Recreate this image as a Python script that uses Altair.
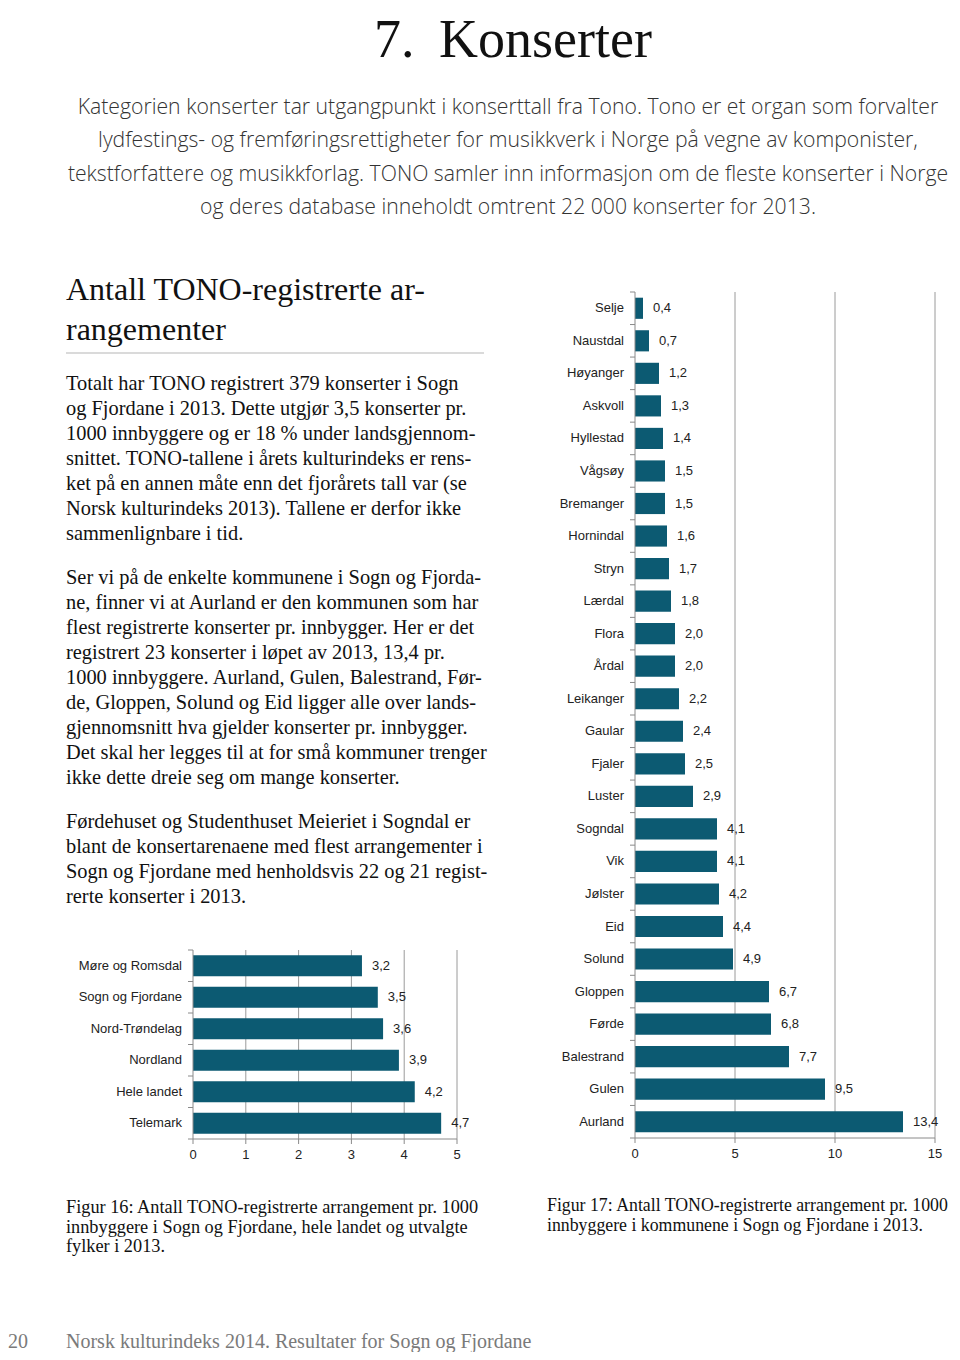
import altair as alt
import pandas as pd

# ---------------- data ----------------
FYLKE = ["Møre og Romsdal", "Sogn og Fjordane", "Nord-Trøndelag", "Nordland", "Hele landet", "Telemark"]
FYLKE_VAL = [3.2, 3.5, 3.6, 3.9, 4.2, 4.7]
SMALL_TICKS = [0, 1, 2, 3, 4, 5]

KOMMUNE = ["Selje", "Naustdal", "Høyanger", "Askvoll", "Hyllestad", "Vågsøy", "Bremanger",
           "Hornindal", "Stryn", "Lærdal", "Flora", "Årdal", "Leikanger", "Gaular", "Fjaler",
           "Luster", "Sogndal", "Vik", "Jølster", "Eid", "Solund", "Gloppen", "Førde",
           "Balestrand", "Gulen", "Aurland"]
KOMMUNE_VAL = [0.4, 0.7, 1.2, 1.3, 1.4, 1.5, 1.5, 1.6, 1.7, 1.8, 2.0, 2.0, 2.2, 2.4, 2.5,
               2.9, 4.1, 4.1, 4.2, 4.4, 4.9, 6.7, 6.8, 7.7, 9.5, 13.4]
BIG_TICKS = [0, 5, 10, 15]

TITLE_NUM = "7."
TITLE_TEXT = "Konserter"
INTRO = [
    "Kategorien konserter tar utgangpunkt i konserttall fra Tono. Tono er et organ som forvalter",
    "lydfestings- og fremføringsrettigheter for musikkverk i Norge på vegne av komponister,",
    "tekstforfattere og musikkforlag. TONO samler inn informasjon om de fleste konserter i Norge",
    "og deres database inneholdt omtrent 22 000 konserter for 2013.",
]
HEADING = ["Antall TONO-registrerte ar-", "rangementer"]
PARA1 = [
    "Totalt har TONO registrert 379 konserter i Sogn",
    "og Fjordane i 2013. Dette utgjør 3,5 konserter pr.",
    "1000 innbyggere og er 18 % under landsgjennom-",
    "snittet. TONO-tallene i årets kulturindeks er rens-",
    "ket på en annen måte enn det fjorårets tall var (se",
    "Norsk kulturindeks 2013). Tallene er derfor ikke",
    "sammenlignbare i tid.",
]
PARA2 = [
    "Ser vi på de enkelte kommunene i Sogn og Fjorda-",
    "ne, finner vi at Aurland er den kommunen som har",
    "flest registrerte konserter pr. innbygger. Her er det",
    "registrert 23 konserter i løpet av 2013, 13,4 pr.",
    "1000 innbyggere. Aurland, Gulen, Balestrand, Før-",
    "de, Gloppen, Solund og Eid ligger alle over lands-",
    "gjennomsnitt hva gjelder konserter pr. innbygger.",
    "Det skal her legges til at for små kommuner trenger",
    "ikke dette dreie seg om mange konserter.",
]
PARA3 = [
    "Førdehuset og Studenthuset Meieriet i Sogndal er",
    "blant de konsertarenaene med flest arrangementer i",
    "Sogn og Fjordane med henholdsvis 22 og 21 regist-",
    "rerte konserter i 2013.",
]
CAP16 = [
    "Figur 16: Antall TONO-registrerte arrangement pr. 1000",
    "innbyggere i Sogn og Fjordane, hele landet og utvalgte",
    "fylker i 2013.",
]
CAP17 = [
    "Figur 17: Antall TONO-registrerte arrangement pr. 1000",
    "innbyggere i kommunene i Sogn og Fjordane i 2013.",
]
PAGE_NO = "20"
FOOTER = "Norsk kulturindeks 2014. Resultater for Sogn og Fjordane"

# ---------------- layout / style ----------------
W, H = 944, 1344
SMALL_X = [185, 449]
SMALL_Y = [942, 1131]
BIG_X = [627, 927]
BIG_Y = [284, 1130]

SERIF = "Liberation Serif"
SANS = "Liberation Sans"
INTRO_FONT = "Open Sans"
BAR = "#0c5a72"
GRID = "#9a9a9a"
AXIS = "#8a8a8a"
LABEL = "#222222"

one = pd.DataFrame({"k": [0]})


def txt(lines, x, y, size, font=SERIF, color="#111111", align="left", lh=None, weight="normal"):
    kw = dict(text=lines, x=x, y=y, fontSize=size, font=font, color=color,
              align=align, baseline="alphabetic", fontWeight=weight)
    if lh is not None:
        kw["lineHeight"] = lh
    return alt.Chart(one).mark_text(**kw)


texts = [
    txt(TITLE_NUM, 366, 49, 54),
    txt(TITLE_TEXT, 431, 49, 54),
    txt(INTRO, 500, 106, 21.2, font=INTRO_FONT, color="#333333", align="center", lh=33.3, weight=300),
    txt(HEADING, 58, 292, 32, lh=40),
    txt(PARA1, 58, 382, 20.4, lh=25),
    txt(PARA2, 58, 576, 20.4, lh=25),
    txt(PARA3, 58, 820, 20.4, lh=25),
    txt(CAP16, 58, 1205, 18.3, lh=19.6),
    txt(CAP17, 539, 1203, 17.8, lh=19.6),
    txt(PAGE_NO, 0, 1340, 20, color="#7a7a7a"),
    txt(FOOTER, 58, 1340, 20, color="#7a7a7a"),
]

head_rule = alt.Chart(one).mark_rule(color="#b5b5b5", strokeWidth=1).encode(
    x=alt.value(58), x2=alt.value(476), y=alt.value(345)
)

LAB_EXPR = "replace(format(datum.v, '.1f'), '.', ',')"


def bar_chart(names, vals, ticks, xr, yr, pin, pout):
    df = pd.DataFrame({"name": names, "v": vals})
    tdf = pd.DataFrame({"t": ticks})
    gdf = pd.DataFrame({"g": ticks[1:]})
    last = pd.DataFrame({"name": names[-1:]})
    xs = alt.Scale(domain=[ticks[0], ticks[-1]], range=xr, nice=False, zero=True)
    ys = alt.Scale(domain=names, range=yr, paddingInner=pin, paddingOuter=pout)
    gap = pin * (yr[1] - yr[0]) / len(names) / 2

    grid = alt.Chart(gdf).mark_rule(color=GRID, strokeWidth=1).encode(
        x=alt.X("g:Q", scale=xs, axis=None),
        y=alt.value(yr[0]), y2=alt.value(yr[1]),
    )
    bars = alt.Chart(df).mark_bar(color=BAR).encode(
        x=alt.X("v:Q", scale=xs, axis=None),
        y=alt.Y("name:N", scale=ys, sort=None, axis=None),
    )
    labels = alt.Chart(df).transform_calculate(lab=LAB_EXPR).mark_text(
        align="left", baseline="middle", dx=10, font=SANS, fontSize=13, color=LABEL
    ).encode(
        x=alt.X("v:Q", scale=xs, axis=None),
        y=alt.Y("name:N", scale=ys, sort=None, axis=None),
        text="lab:N",
    )
    # axis: category labels
    ylabels = alt.Chart(df).mark_text(
        align="right", baseline="middle", font=SANS, fontSize=13, color=LABEL
    ).encode(
        y=alt.Y("name:N", scale=ys, sort=None, axis=None),
        x=alt.value(xr[0] - 11),
        text="name:N",
    )
    # axis: category ticks at band boundaries
    yticks = alt.Chart(df).mark_rule(color=AXIS, yOffset=-gap).encode(
        y=alt.Y("name:N", scale=ys, sort=None, axis=None, bandPosition=0),
        x=alt.value(xr[0] - 5), x2=alt.value(xr[0]),
    )
    yticks_end = alt.Chart(last).mark_rule(color=AXIS, yOffset=gap).encode(
        y=alt.Y("name:N", scale=ys, sort=None, axis=None, bandPosition=1),
        x=alt.value(xr[0] - 5), x2=alt.value(xr[0]),
    )
    ydomain = alt.Chart(one).mark_rule(color=AXIS).encode(
        x=alt.value(xr[0]), y=alt.value(yr[0]), y2=alt.value(yr[1])
    )
    # axis: numeric
    xdomain = alt.Chart(one).mark_rule(color=AXIS).encode(
        x=alt.value(xr[0]), x2=alt.value(xr[1]), y=alt.value(yr[1])
    )
    xticks = alt.Chart(tdf).mark_rule(color=AXIS).encode(
        x=alt.X("t:Q", scale=xs, axis=None),
        y=alt.value(yr[1]), y2=alt.value(yr[1] + 5),
    )
    xlabels = alt.Chart(tdf).mark_text(
        align="center", baseline="middle", font=SANS, fontSize=13, color=LABEL
    ).encode(
        x=alt.X("t:Q", scale=xs, axis=None),
        y=alt.value(yr[1] + 16),
        text=alt.Text("t:Q", format="d"),
    )
    return alt.layer(grid, bars, labels, ylabels, yticks, yticks_end, ydomain,
                     xdomain, xticks, xlabels)


small = bar_chart(FYLKE, FYLKE_VAL, SMALL_TICKS, SMALL_X, SMALL_Y, 0.34, 0.17)
big = bar_chart(KOMMUNE, KOMMUNE_VAL, BIG_TICKS, BIG_X, BIG_Y, 0.35, 0.175)

chart = alt.layer(*texts, head_rule, small, big).resolve_scale(
    x="independent", y="independent"
).properties(width=W, height=H, padding=0).configure_view(stroke=None)

chart.save("out.html", embed_options={"renderer": "svg", "actions": False})
